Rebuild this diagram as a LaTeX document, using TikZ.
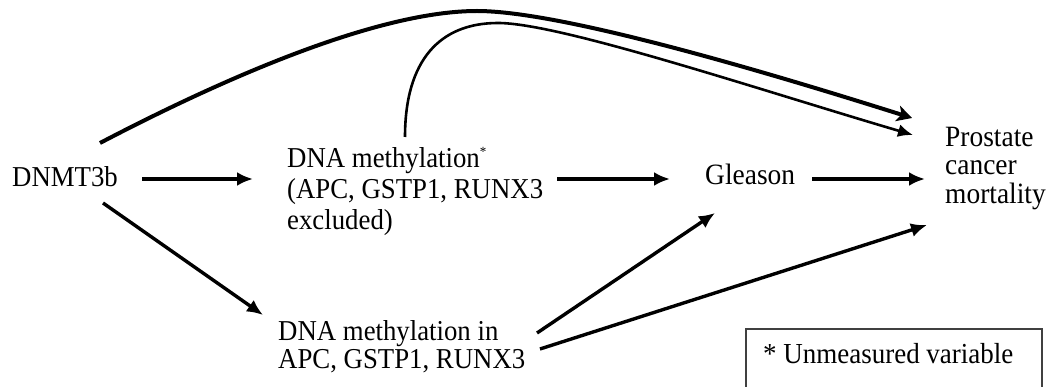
\documentclass[tikz,border=0pt]{standalone}
\usepackage{fontspec}
\setmainfont{Liberation Serif}[FakeStretch=0.93]
\usetikzlibrary{arrows.meta,calc}
\tikzset{
  lbl/.style={inner sep=0pt, anchor=base west, align=left, font=\fontsize{28.8}{28}\selectfont},
  lblr/.style={inner sep=0pt, anchor=base west, font=\fontsize{29.5}{27.5}\selectfont},
  arr/.style={line width=3.4pt, -{Latex[length=16pt,width=14pt]}},
  bigcurve/.style={line width=4pt, -{Stealth[length=15pt,width=16pt,inset=4pt]}},
  thincurve/.style={line width=2.6pt, -{Latex[length=15pt,width=13pt]}},
  legendbox/.style={line width=1.3pt, black!75},
}
\begin{document}
\begin{tikzpicture}[x=1pt,y=-1pt]
\useasboundingbox (0,0) rectangle (1054,387);
\node[lbl] (dnmt) at (12,187) {DNMT3b};
\node[lbl, font=\fontsize{28.8}{31}\selectfont] (dm) at (287,168)
  {\begin{tabular}[t]{@{}l@{}}DNA methylation\raisebox{11pt}{\fontsize{14}{14}\selectfont *}\\(APC, GSTP1, RUNX3\\excluded)\end{tabular}};
\node[lblr] (gleason) at (705,185) {Gleason};
\node[lblr] (pcm) at (945,147)
  {\begin{tabular}[t]{@{}l@{}}Prostate\\cancer\\mortality\end{tabular}};
\node[lbl] (lower) at (278,340)
  {\begin{tabular}[t]{@{}l@{}}DNA methylation in\\APC, GSTP1, RUNX3\end{tabular}};
\node[lbl, font=\fontsize{29}{28}\selectfont] (legend) at (763,363) {* Unmeasured variable};
\draw[legendbox] ($(legend.base west)+(-17,24)$) |- ($(legend.base west)+(279,-34)$) -- ($(legend.base west)+(279,24)$);

\draw[arr] ($(dnmt.base west)+(130,-8)$) -- ($(dm.base west)+(-34,11)$);
\draw[arr] ($(dm.base west)+(270,11)$) -- ($(gleason.base west)+(-35,-6)$);
\draw[arr] ($(gleason.base west)+(107,-6)$) -- ($(pcm.base west)+(-20,32)$);
\draw[arr] ($(dnmt.base west)+(91,16)$) -- ($(lower.base west)+(-15,-25)$);
\draw[arr] ($(lower.base west)+(259,-7)$) -- ($(gleason.base west)+(10,28)$);
\draw[arr] ($(lower.base west)+(262,9)$) -- ($(pcm.base west)+(-18,78)$);
\draw[bigcurve] ($(dnmt.base west)+(88,-44)$) .. controls (230,75) and (380,11) .. (477,11)
  .. controls (560,11) and (760,70) .. ($(pcm.base west)+(-33,-29)$);
\draw[thincurve] ($(dm.base west)+(118,-31)$) .. controls (405,60) and (440,23) .. (498,23)
  .. controls (560,23) and (760,90) .. ($(pcm.base west)+(-32,-12)$);
\end{tikzpicture}
\end{document}
